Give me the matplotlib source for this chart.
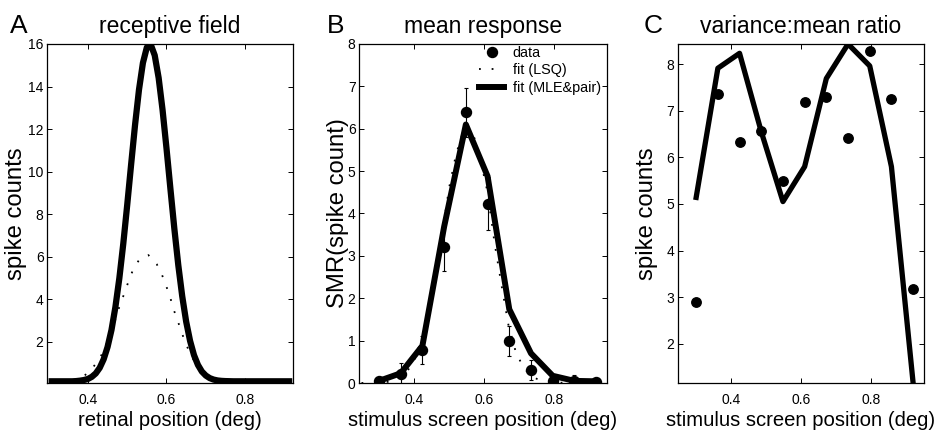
import matplotlib.pyplot as plt
from matplotlib.lines import Line2D

plt.rcParams["font.family"] = ["Liberation Sans", "DejaVu Sans"]

# stimulus positions (deg), shared by panels B and C
positions = [0.300, 0.362, 0.424, 0.486, 0.548, 0.610, 0.672, 0.734, 0.796, 0.858, 0.920]

# A: receptive field, MLE&pair estimate (thick) and LSQ estimate (dotted)
rf_x = [0.30, 0.36, 0.37, 0.38, 0.39, 0.40, 0.41, 0.42, 0.43, 0.44, 0.45,
        0.46, 0.47, 0.48, 0.49, 0.50, 0.51, 0.52, 0.53, 0.54, 0.55, 0.56,
        0.57, 0.58, 0.59, 0.60, 0.61, 0.62, 0.63, 0.64, 0.65, 0.66, 0.67,
        0.68, 0.69, 0.70, 0.71, 0.72, 0.73, 0.74, 0.75, 0.77, 0.92]
rf_mle = [0.15, 0.15, 0.16, 0.18, 0.21, 0.26, 0.36, 0.52, 0.78, 1.18, 1.76,
          2.56, 3.64, 4.99, 6.61, 8.43, 10.34, 12.20, 13.85, 15.11, 15.84, 15.97,
          15.47, 14.41, 12.90, 11.10, 9.19, 7.32, 5.61, 4.15, 2.96, 2.05, 1.38,
          0.92, 0.61, 0.42, 0.30, 0.23, 0.19, 0.17, 0.16, 0.15, 0.15]
rf_lsq_x = [0.30, 0.34, 0.37, 0.387, 0.409, 0.428, 0.442, 0.459, 0.482, 0.493,
            0.503, 0.514, 0.530, 0.554, 0.575, 0.588, 0.599, 0.609, 0.617, 0.628,
            0.637, 0.648, 0.66, 0.68, 0.70, 0.72, 0.75, 0.80, 0.92]
rf_lsq = [0.02, 0.08, 0.20, 0.34, 0.72, 1.15, 1.66, 2.41, 3.77, 4.29,
          4.83, 5.35, 5.85, 6.08, 5.66, 5.18, 4.64, 4.13, 3.58, 3.03,
          2.52, 1.98, 1.45, 0.80, 0.38, 0.16, 0.04, 0.0, 0.0]

# B: mean response
mean_data = [0.05, 0.22, 0.77, 3.20, 6.39, 4.23, 0.99, 0.31, 0.04, 0.05, 0.03]
mean_err = [0.03, 0.25, 0.33, 0.55, 0.58, 0.63, 0.36, 0.24, 0.04, 0.15, 0.02]
mean_mle = [0.05, 0.23, 0.88, 3.69, 6.10, 4.88, 1.74, 0.70, 0.17, 0.05, 0.04]
lsq_x = [0.25, 0.30, 0.33, 0.36, 0.38, 0.40, 0.42, 0.44, 0.46, 0.48, 0.50,
         0.52, 0.54, 0.553, 0.57, 0.59, 0.61, 0.63, 0.65, 0.67, 0.69, 0.71,
         0.73, 0.75, 0.78, 0.81, 0.85, 0.95]
mean_lsq = [0.0, 0.01, 0.03, 0.12, 0.27, 0.52, 0.94, 1.60, 2.45, 3.50, 4.60,
            5.40, 5.93, 6.05, 5.85, 5.25, 4.50, 3.30, 2.30, 1.35, 0.75, 0.40,
            0.20, 0.10, 0.03, 0.01, 0.0, 0.0]

# C: variance:mean ratio
vmr_data = [2.90, 7.36, 6.32, 6.57, 5.50, 7.19, 7.29, 6.41, 8.29, 7.25, 3.17]
vmr_fit = [5.14, 7.91, 8.23, 6.55, 5.05, 5.80, 7.69, 8.43, 7.96, 5.80, 1.16]

TITLE = {"size": 16.5}
XLAB = {"size": 14.6}
YLAB = {"size": 17.2}
LETTER = {"size": 19}
DOTS = (0, (1, 6))


def style(ax, xticks, yticks):
    ax.set_xticks(xticks)
    ax.set_xticklabels(["%.1f" % t for t in xticks])
    ax.set_yticks(yticks)
    ax.tick_params(direction="in", top=True, right=True, length=3.5, width=0.7,
                   labelsize=10)
    ax.tick_params(axis="x", pad=7)
    ax.tick_params(axis="y", pad=2.5)
    for s in ax.spines.values():
        s.set_linewidth(0.9)
    ax.yaxis.set_label_coords(-0.08, 0.5)


fig = plt.figure(figsize=(9.35, 4.3), dpi=100)
ax1 = fig.add_axes([0.0503, 0.1093, 0.2631, 0.7884])
ax2 = fig.add_axes([0.3840, 0.1093, 0.2652, 0.7884])
ax3 = fig.add_axes([0.7251, 0.1093, 0.2631, 0.7884])

# A
ax1.plot(rf_lsq_x, rf_lsq, color="k", lw=1.3, ls=DOTS)
ax1.plot(rf_x, rf_mle, color="k", lw=4.5, solid_capstyle="butt")
ax1.set_xlim(0.296, 0.922)
ax1.set_ylim(0.07, 16)
style(ax1, [0.4, 0.6, 0.8], range(2, 17, 2))
ax1.set_title("receptive field", pad=8, **TITLE)
ax1.set_xlabel("retinal position (deg)", labelpad=3, **XLAB)
ax1.set_ylabel("spike counts", **YLAB)

# B
ax2.plot(lsq_x, mean_lsq, color="k", lw=1.3, ls=DOTS)
ax2.plot(positions, mean_mle, color="k", lw=4.3)
ax2.errorbar(positions, mean_data, yerr=mean_err, fmt="o", color="k", ms=7.2,
             elinewidth=0.8, capsize=1.7, capthick=0.8, zorder=4)
ax2.set_xlim(0.243, 0.951)
ax2.set_ylim(0, 8)
style(ax2, [0.4, 0.6, 0.8], range(0, 9))
ax2.yaxis.set_label_coords(-0.04, 0.5)
ax2.set_title("mean response", pad=8, **TITLE)
ax2.set_xlabel("stimulus screen position (deg)", labelpad=3, **XLAB)
ax2.set_ylabel("SMR(spike count)", **YLAB)
handles = [
    Line2D([], [], marker="o", ls="none", color="k", ms=7.2),
    Line2D([], [], color="k", lw=1.3, ls=DOTS),
    Line2D([], [], color="k", lw=4.3),
]
ax2.legend(handles, ["data", "fit (LSQ)", "fit (MLE&pair)"], loc="upper right",
           bbox_to_anchor=(0.975, 0.995), frameon=False, fontsize=10.4,
           borderpad=0, borderaxespad=0, handlelength=1.7, handletextpad=0.6,
           labelspacing=0.25)

# C
ax3.plot(positions, vmr_fit, color="k", lw=3.8)
ax3.plot(positions, vmr_data, "o", color="k", ms=6.8)
ax3.set_xlim(0.248, 0.951)
ax3.set_ylim(1.16, 8.43)
style(ax3, [0.4, 0.6, 0.8], range(2, 9))
ax3.set_title("variance:mean ratio", pad=8, **TITLE)
ax3.set_xlabel("stimulus screen position (deg)", labelpad=3, **XLAB)
ax3.set_ylabel("spike counts", **YLAB)

fig.text(10 / 935, 1 - 33 / 430, "A", ha="left", va="baseline", **LETTER)
fig.text(327 / 935, 1 - 33 / 430, "B", ha="left", va="baseline", **LETTER)
fig.text(644 / 935, 1 - 33 / 430, "C", ha="left", va="baseline", **LETTER)

fig.savefig("out.png", dpi=100)
